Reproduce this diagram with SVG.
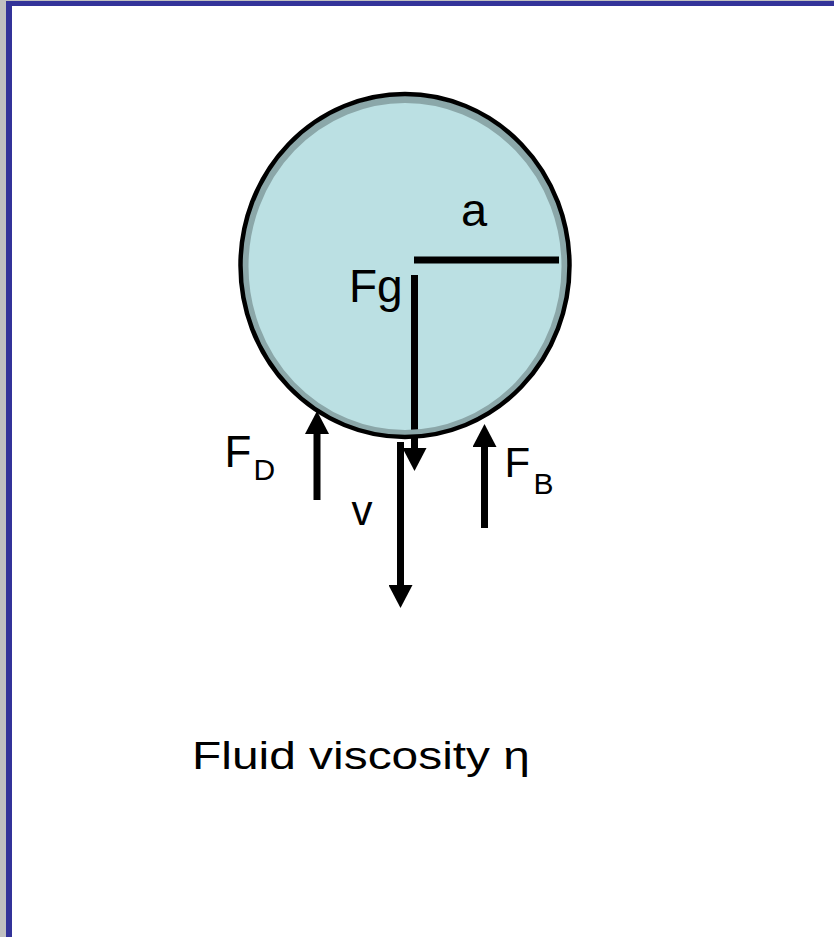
<svg xmlns="http://www.w3.org/2000/svg" width="834" height="937" viewBox="0 0 834 937">
  <style>
    .lbl { font-family: "Liberation Sans", Arial, sans-serif; fill: #000; }
    .bar { stroke: #000; stroke-width: 7; fill: none; }
    .arr { stroke: #000; stroke-width: 7; fill: none; marker-end: url(#head); }
  </style>
  <defs>
    <marker id="head" markerUnits="userSpaceOnUse" markerWidth="24" markerHeight="24" viewBox="0 0 23 24" refX="0" refY="12" orient="auto">
      <path d="M0,0 L23,12 L0,24 Z" fill="#000"/>
    </marker>
  </defs>
  <rect x="0" y="0" width="834" height="937" fill="#ffffff"/>
  <g id="frame">
    <rect x="0" y="0" width="6" height="937" fill="#c0c0c0"/>
    <rect x="0" y="0" width="834" height="1" fill="#c0c0c0"/>
    <rect x="6" y="1" width="828" height="5" fill="#333399"/>
    <rect x="6" y="1" width="6" height="936" fill="#333399"/>
  </g>
  <g id="sphere">
    <ellipse cx="405" cy="265.5" rx="163" ry="170" fill="#bbe0e3"/>
  </g>
  <g id="connectors">
    <line id="radius" class="bar" x1="414" y1="260" x2="559" y2="260"/>
    <line id="fg-arrow" class="arr" x1="414.5" y1="275" x2="414.5" y2="448"/>
  </g>
  <g id="sphere-rim">
    <ellipse cx="405" cy="266.5" rx="160" ry="167" fill="none" stroke="#8ba7a9" stroke-width="7"/>
    <ellipse cx="405" cy="265.5" rx="164.5" ry="171.5" fill="none" stroke="#000" stroke-width="4.5"/>
  </g>
  <g id="force-arrows">
    <line id="v-arrow" class="arr" x1="400.5" y1="442" x2="400.5" y2="585"/>
    <line id="fd-arrow" class="arr" x1="317" y1="500" x2="317" y2="434"/>
    <line id="fb-arrow" class="arr" x1="484.5" y1="528" x2="484.5" y2="447"/>
  </g>
  <g id="labels">
    <text id="label-a" class="lbl" x="461" y="226" font-size="47">a</text>
    <text id="label-fg" class="lbl" x="349" y="302" font-size="46">Fg</text>
    <text id="label-fd" class="lbl" x="224.5" y="467" font-size="44">F<tspan x="253.5" y="480" font-size="30">D</tspan></text>
    <text id="label-fb" class="lbl" x="504.5" y="477" font-size="42">F<tspan x="533.5" y="494" font-size="30">B</tspan></text>
    <text id="label-v" class="lbl" x="351.5" y="525" font-size="42">v</text>
    <text id="label-fluid" class="lbl" x="192" y="769" font-size="39" textLength="338" lengthAdjust="spacingAndGlyphs">Fluid viscosity η</text>
  </g>
</svg>
